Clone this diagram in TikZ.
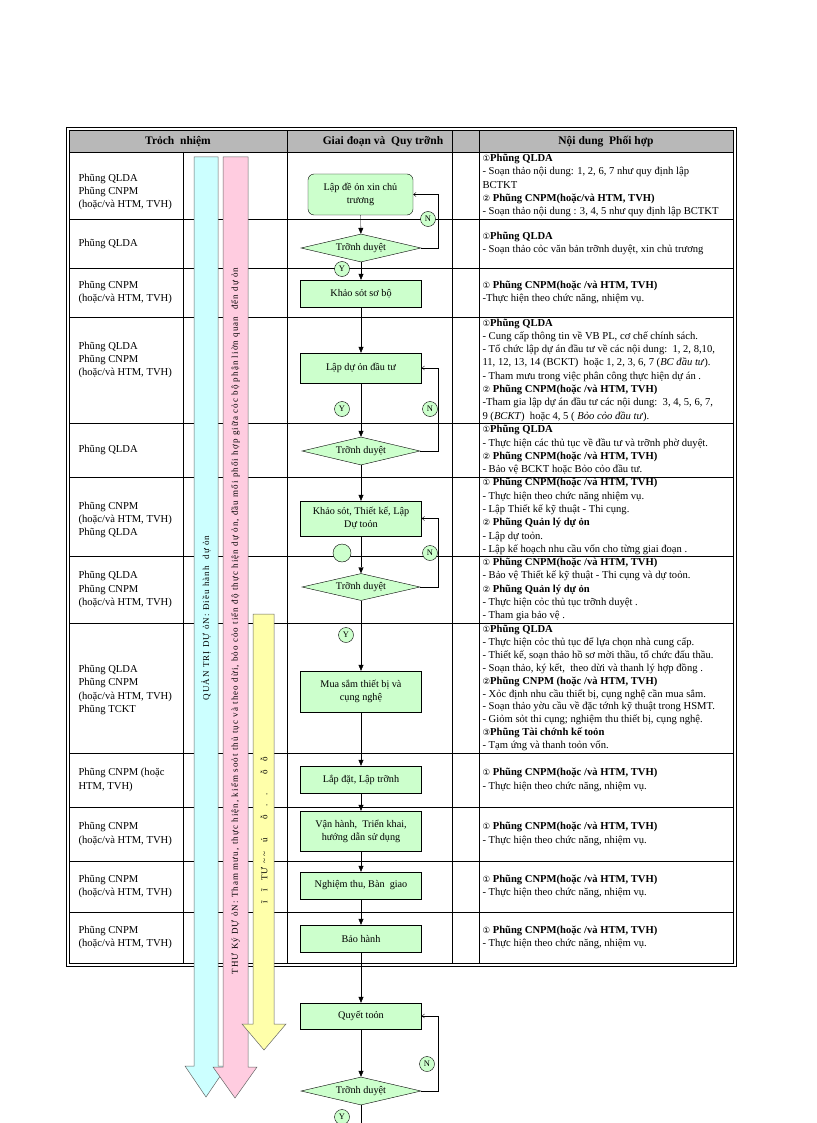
\documentclass[tikz,border=0pt]{standalone}
\usepackage{fontspec}
\setmainfont{Liberation Serif}
\newfontfamily\symfont{DejaVu Sans}
\newfontfamily\bandfont[LetterSpace=12]{Liberation Serif}
\usetikzlibrary{arrows.meta,shapes.geometric}

\definecolor{flowgreen}{HTML}{CCFFCC}
\definecolor{headgray}{HTML}{B8B8B8}
\definecolor{bandcyan}{HTML}{CCFFFF}
\definecolor{bandpink}{HTML}{FFCCE0}
\definecolor{bandyellow}{HTML}{FFFFAA}

\newcommand{\cellfont}{\fontsize{10.6}{13.3}\selectfont}
\newcommand{\flowfont}{\fontsize{10.2}{12.8}\selectfont}
\newcommand{\nr}[1]{{\symfont\fontsize{8.5}{8.5}\selectfont #1}}

\begin{document}
\begin{tikzpicture}[x=1pt,y=-1pt,
    every node/.style={font=\cellfont},
    stage/.style={draw, fill=flowgreen, minimum width=121pt, inner sep=1pt, align=center, font=\flowfont},
    check/.style={diamond, draw, fill=flowgreen, minimum width=120pt, minimum height=28pt, shape aspect=4, inner sep=0pt, font=\flowfont},
    yn/.style={circle, draw, fill=flowgreen, minimum size=15pt, inner sep=0pt, font=\fontsize{8.5}{9}\selectfont},
    flow/.style={-{Triangle[length=6pt,width=5pt]}},
    back/.style={-{Straight Barb[length=2.5pt,width=4pt]}},
    band/.style={draw=black!60, line width=0.5pt}]
    \useasboundingbox (0,0) rectangle (816,1123);

    % Table frame and header
    \fill[headgray] (70,131) rectangle (733,152);
    \foreach \y in {152,219,268,317,423,477,556,623,753,807,861,912}
        \draw (70,\y) -- (733,\y);
    \draw (183,152) -- (183,963);
    \foreach \x in {287,452,479}
        \draw (\x,131) -- (\x,963);
    \draw[line width=1pt, double distance=1.2pt] (68,129) rectangle (735,965);
    \node[font=\fontsize{11.5}{13}\selectfont\bfseries] (h1) at (178,142) {Trỏch\ \ nhiệm};
    \node[font=\fontsize{11.5}{13}\selectfont\bfseries] (h2) at (383,142) {Giai đoạn và\ \ Quy trỡnh};
    \node[font=\fontsize{11.5}{13}\selectfont\bfseries] (h3) at (606,142) {Nội dung\ \ Phối hợp};

    % Left column
    \node[anchor=west, align=left] (l1) at (75,192) {Phũng QLDA\\Phũng CNPM\\(hoặc/và HTM, TVH)};
    \node[anchor=west, align=left] (l2) at (75,243.5) {Phũng QLDA};
    \node[anchor=west, align=left] (l3) at (75,292.5) {Phũng CNPM\\(hoặc/và HTM, TVH)};
    \node[anchor=west, align=left] (l4) at (75,360) {Phũng QLDA\\Phũng CNPM\\(hoặc/và HTM, TVH)};
    \node[anchor=west, align=left] (l5) at (75,450) {Phũng QLDA};
    \node[anchor=west, align=left] (l6) at (75,520) {Phũng CNPM\\(hoặc/và HTM, TVH)\\Phũng QLDA};
    \node[anchor=west, align=left] (l7) at (75,589.5) {Phũng QLDA\\Phũng CNPM\\(hoặc/và HTM, TVH)};
    \node[anchor=west, align=left] (l8) at (75,690) {Phũng QLDA\\Phũng CNPM\\(hoặc/và HTM, TVH)\\Phũng TCKT};
    \node[anchor=west, align=left] (l9) at (75,780) {Phũng CNPM (hoặc\\HTM, TVH)};
    \node[anchor=west, align=left] (l10) at (75,834) {Phũng CNPM\\(hoặc/và HTM, TVH)};
    \node[anchor=west, align=left] (l11) at (75,886.5) {Phũng CNPM\\(hoặc/và HTM, TVH)};
    \node[anchor=west, align=left] (l12) at (75,937.5) {Phũng CNPM\\(hoặc/và HTM, TVH)};

    % Right column
    \node[anchor=west, align=left] (p1) at (479,185.5) {\nr{①}\textbf{Phũng QLDA}\\- Soạn thảo nội dung: 1, 2, 6, 7 như quy định lập\\BCTKT\\\nr{②} \textbf{Phũng CNPM(hoặc/và HTM, TVH)}\\- Soạn thảo nội dung : 3, 4, 5 như quy định lập BCTKT};
    \node[anchor=west, align=left] (p2) at (479,243.5) {\nr{①}\textbf{Phũng QLDA}\\- Soạn thảo cỏc văn bản trỡnh duyệt, xin chủ trương};
    \node[anchor=west, align=left] (p3) at (479,292.5) {\nr{①} \textbf{Phũng CNPM(hoặc /và HTM, TVH)}\\-Thực hiện theo chức năng, nhiệm vụ.};
    \node[anchor=west, align=left] (p4) at (479,370) {\nr{①}\textbf{Phũng QLDA}\\- Cung cấp thông tin về VB PL, cơ chế chính sách.\\- Tổ chức lập dự án đầu tư về các nội dung:\ \ 1, 2, 8,10,\\11, 12, 13, 14 (BCKT)\ \ hoặc 1, 2, 3, 6, 7 (\textit{BC đầu tư}).\\- Tham mưu trong việc phân công thực hiện dự án .\\\nr{②} \textbf{Phũng CNPM(hoặc /và HTM, TVH)}\\-Tham gia lập dự án đầu tư các nội dung:\ \ 3, 4, 5, 6, 7,\\9 (\textit{BCKT})\ \ hoặc 4, 5 (\textit{ Bỏo cỏo đầu tư}).};
    \node[anchor=west, align=left] (p5) at (479,450) {\nr{①}\textbf{Phũng QLDA}\\- Thực hiện các thủ tục về đầu tư và trỡnh phờ duyệt.\\\nr{②} \textbf{Phũng CNPM(hoặc /và HTM, TVH)}\\- Bảo vệ BCKT hoặc Bỏo cỏo đầu tư.};
    \node[anchor=west, align=left] (p6) at (479,516.5) {\nr{①} \textbf{Phũng CNPM(hoặc /và HTM, TVH)}\\- Thực hiện theo chức năng nhiệm vụ.\\- Lập Thiết kế kỹ thuật - Thi cụng.\\\nr{②} \textbf{Phũng Quản lý dự ỏn}\\- Lập dự toỏn.\\- Lập kế hoạch nhu cầu vốn cho từng giai đoạn .};
    \node[anchor=west, align=left] (p7) at (479,589.5) {\nr{①} \textbf{Phũng CNPM(hoặc /và HTM, TVH)}\\- Bảo vệ Thiết kế kỹ thuật - Thi cụng và dự toỏn.\\\nr{②} \textbf{Phũng Quản lý dự ỏn}\\- Thực hiện cỏc thủ tục trỡnh duyệt .\\- Tham gia bảo vệ .};
    \node[anchor=west, align=left, font=\fontsize{10.6}{12.9}\selectfont] (p8) at (479,688) {\nr{①}\textbf{Phũng QLDA}\\- Thực hiện cỏc thủ tục để lựa chọn nhà cung cấp.\\- Thiết kế, soạn thảo hồ sơ mời thầu, tổ chức đấu thầu.\\- Soạn thảo, ký kết,\ \ theo dừi và thanh lý hợp đồng .\\\nr{②}\textbf{Phũng CNPM (hoặc /và HTM, TVH)}\\- Xỏc định nhu cầu thiết bị, cụng nghệ cần mua sắm.\\- Soạn thảo yờu cầu về đặc tớnh kỹ thuật trong HSMT.\\- Giỏm sỏt thi cụng; nghiệm thu thiết bị, cụng nghệ.\\\nr{③}\textbf{Phũng Tài chớnh kế toỏn}\\- Tạm ứng và thanh toỏn vốn.};
    \node[anchor=west, align=left] (p9) at (479,780) {\nr{①} \textbf{Phũng CNPM(hoặc /và HTM, TVH)}\\- Thực hiện theo chức năng, nhiệm vụ.};
    \node[anchor=west, align=left] (p10) at (479,834) {\nr{①} \textbf{Phũng CNPM(hoặc /và HTM, TVH)}\\- Thực hiện theo chức năng, nhiệm vụ.};
    \node[anchor=west, align=left] (p11) at (479,886.5) {\nr{①} \textbf{Phũng CNPM(hoặc /và HTM, TVH)}\\- Thực hiện theo chức năng, nhiệm vụ.};
    \node[anchor=west, align=left] (p12) at (479,937.5) {\nr{①} \textbf{Phũng CNPM(hoặc /và HTM, TVH)}\\- Thực hiện theo chức năng, nhiệm vụ.};

    % Block arrows
    \filldraw[band, fill=bandcyan] (194,157) -- (218,157) -- (218,1066) -- (227,1066) -- (206,1097) -- (185,1066) -- (194,1066) -- cycle;
    \filldraw[band, fill=bandpink] (223,157) -- (248,157) -- (248,1067) -- (257,1067) -- (235,1098) -- (213,1067) -- (223,1067) -- cycle;
    \filldraw[band, fill=bandyellow] (253,614) -- (274,614) -- (274,1024) -- (286,1024) -- (264,1050) -- (242,1024) -- (253,1024) -- cycle;
    \node[rotate=90, font=\bandfont\fontsize{9}{10}\selectfont] (t1) at (206,618) {QUẢN TRỊ DỰ ỏN: Điều hành\ \ dự ỏn};
    \node[rotate=90, font=\bandfont\fontsize{9}{10}\selectfont] (t2) at (235.5,621) {THƯ Ký DỰ ỏN: Tham mưu, thực hiện, kiểm soỏt thủ tục và theo dừi, bỏo cỏo tiến độ thực hiện dự ỏn, đầu mối phối hợp giữa cỏc bộ phận liờn quan\ \ đến dự ỏn};
    \node[rotate=90, font=\fontsize{9}{10}\selectfont] (t3) at (264,830) {ĩ\quad ĩ\quad TƯ\ \ \~{}\ \~{}\quad ú\qquad ỗ\quad .\quad .\qquad ỗ\quad ỗ};

    % Flow
    \node[stage, rounded corners=6pt, minimum width=105pt, minimum height=41pt] (s1) at (360.5,194.5) {Lập đề ỏn xin chủ\\trương};
    \node[check] (c1) at (361,248) {Trỡnh duyệt};
    \node[stage, minimum height=27pt] (s2) at (361,293.5) {Khảo sỏt sơ bộ};
    \node[stage, minimum height=30pt] (s3) at (361,368) {Lập dự ỏn đầu tư};
    \node[check, minimum width=118pt] (c2) at (361,451) {Trỡnh duyệt};
    \node[stage, minimum height=35pt] (s4) at (361,518.5) {Khảo sỏt, Thiết kế, Lập\\Dự toỏn};
    \node[check, minimum width=118pt, minimum height=27pt] (c3) at (361,587) {Trỡnh duyệt};
    \node[stage, minimum height=41pt] (s5) at (361,691.5) {Mua sắm thiết bị và\\cụng nghệ};
    \node[stage, minimum height=27pt] (s6) at (361,779.5) {Lắp đặt, Lập trỡnh};
    \node[stage, minimum height=40pt] (s7) at (361,831) {Vận hành,\ \ Triển khai,\\hướng dẫn sử dụng};
    \node[stage, minimum height=27pt] (s8) at (361,885.5) {Nghiệm thu, Bàn\ \ giao};
    \node[stage, minimum height=27pt] (s9) at (361,938.5) {Bảo hành};
    \node[stage, minimum height=26pt] (s10) at (361,1016) {Quyết toỏn};
    \node[check] (c4) at (361,1091) {Trỡnh duyệt};
    \coordinate (loopx) at (438,0);
    \coordinate (tail) at (361,1123);

    \draw[flow] (s1) -- (c1);
    \draw[flow] (c1) -- (s2);
    \draw[flow] (s2) -- (s3);
    \draw[flow] (s3) -- (c2);
    \draw[flow] (c2) -- (s4);
    \draw[flow] (s4) -- (c3);
    \draw[flow] (c3) -- (s5);
    \draw[flow] (s5) -- (s6);
    \draw[flow] (s6) -- (s7);
    \draw[flow] (s7) -- (s8);
    \draw[flow] (s8) -- (s9);
    \draw[flow] (s9) -- (s10);
    \draw[flow] (s10) -- (c4);
    \draw (c4) -- (tail);
    \draw[back] (c1.east) -- (c1.east -| loopx) |- (s1.east);
    \draw[back] (c2.east) -- (c2.east -| loopx) |- (s3.east);
    \draw[back] (c3.east) -- (c3.east -| loopx) |- (s4.east);
    \draw[back] (c4.east) -- (c4.east -| loopx) |- (s10.east);

    \node[yn] (n1) at (428,219) {N};
    \node[yn] (y1) at (342,269) {Y};
    \node[yn] (y2) at (342,409) {Y};
    \node[yn] (n2) at (430,409) {N};
    \node[yn, minimum size=18pt] (e3) at (342,553) {};
    \node[yn] (n3) at (430,553) {N};
    \node[yn] (y3) at (346,635) {Y};
    \node[yn] (n4) at (427,1064) {N};
    \node[yn] (y4) at (342,1117) {Y};
\end{tikzpicture}
\end{document}
